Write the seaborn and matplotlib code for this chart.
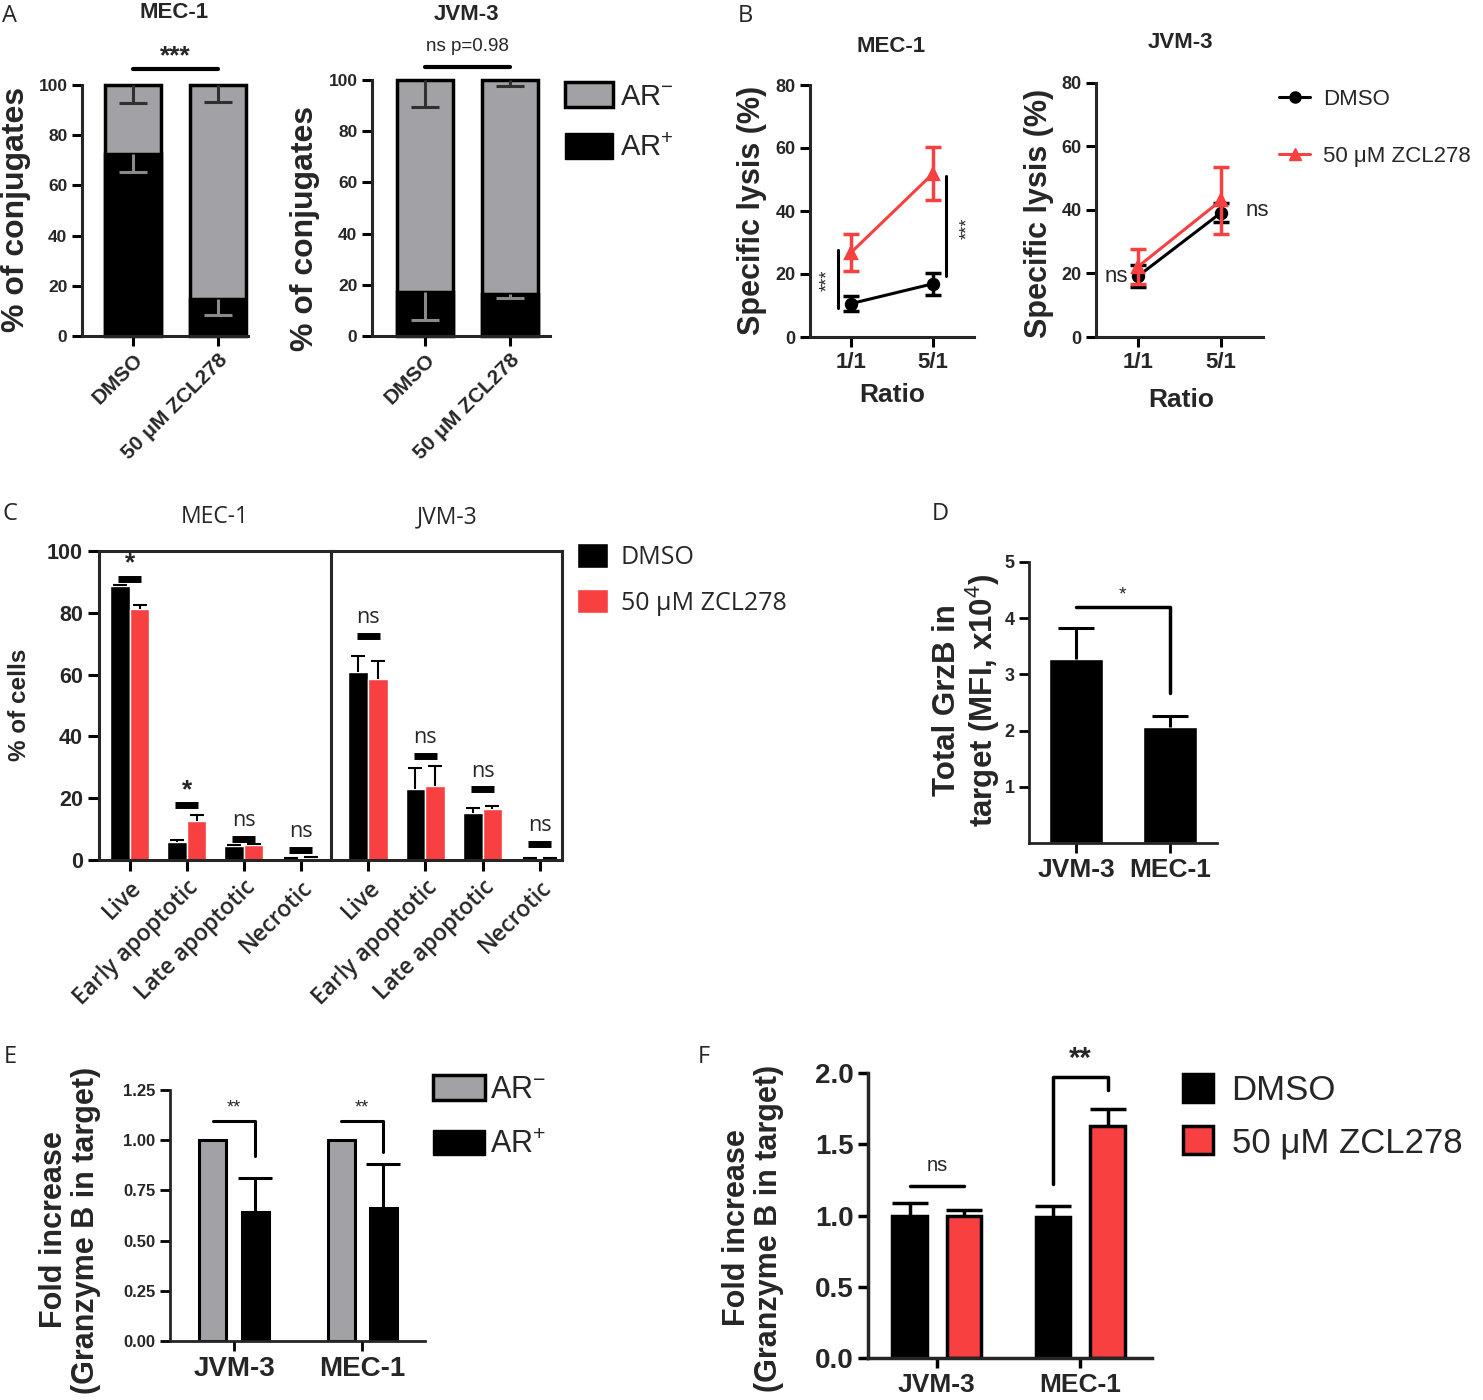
import numpy as np
import pandas as pd
import matplotlib
matplotlib.use("Agg")
import matplotlib.pyplot as plt
from matplotlib.patches import Patch
from matplotlib.lines import Line2D
import seaborn as sns

# ---- data ----
# A: % of conjugates (AR+ part, lower SD of AR+ and of the AR- part)
a_groups = ["DMSO", "50 μM ZCL278"]
a_mec_arpos = [72.7, 14.9]
a_mec_arpos_err = [7.3, 6.7]
a_mec_arneg_err = [7.3, 6.6]
a_jvm_arpos = [17.0, 16.6]
a_jvm_arpos_err = [10.9, 1.7]
a_jvm_arneg_err = [10.6, 2.2]

# B: specific lysis (%)
b_ratios = ["1/1", "5/1"]
b_mec_dmso = [10.6, 16.9]
b_mec_dmso_err = [2.5, 3.5]
b_mec_zcl = [26.8, 51.9]
b_mec_zcl_err = [6.0, 8.4]
b_jvm_dmso = [19.1, 39.2]
b_jvm_dmso_err = [3.5, 3.0]
b_jvm_zcl = [22.1, 43.1]
b_jvm_zcl_err = [5.5, 10.6]

# C: % of cells
c_states = ["Live", "Early apoptotic", "Late apoptotic", "Necrotic"]
c_mec_dmso = [88.6, 5.8, 4.4, 0.3]
c_mec_dmso_err = [0.5, 0.6, 0.3, 0.2]
c_mec_zcl = [81.3, 12.6, 4.8, 0.5]
c_mec_zcl_err = [1.3, 2.0, 0.3, 0.6]
c_jvm_dmso = [60.7, 23.1, 15.2, 0.3]
c_jvm_dmso_err = [5.2, 6.6, 1.5, 0.2]
c_jvm_zcl = [58.7, 23.8, 16.5, 0.4]
c_jvm_zcl_err = [5.7, 6.5, 1.1, 0.2]
c_mec_sig = ["*", "*", "ns", "ns"]
c_mec_sig_y = [91.0, 17.7, 6.9, 3.3]
c_jvm_sig = ["ns", "ns", "ns", "ns"]
c_jvm_sig_y = [72.5, 33.8, 22.9, 5.2]

# D: total GrzB in target
d_lines = ["JVM-3", "MEC-1"]
d_grzb = [3.27, 2.07]
d_grzb_err = [0.56, 0.19]

# E: fold increase, AR- vs AR+
e_lines = ["JVM-3", "MEC-1"]
e_arneg = [1.0, 1.0]
e_arpos = [0.641, 0.661]
e_arpos_err = [0.172, 0.222]

# F: fold increase, DMSO vs ZCL278
f_lines = ["JVM-3", "MEC-1"]
f_dmso = [1.0, 0.99]
f_dmso_err = [0.09, 0.08]
f_zcl = [1.0, 1.63]
f_zcl_err = [0.04, 0.12]

RED = "#f84040"
GRAY = "#a2a2a6"

sns.set_style("ticks")
plt.rcParams["font.family"] = ["Liberation Sans", "DejaVu Sans"]
plt.rcParams["mathtext.fontset"] = "custom"
plt.rcParams["mathtext.rm"] = "Liberation Sans"
plt.rcParams["mathtext.bf"] = "Liberation Sans:bold"
plt.rcParams["mathtext.it"] = "Liberation Sans:italic"

W, H = 1483, 1400
fig = plt.figure(figsize=(W / 100, H / 100), dpi=100)


def px_axes(left, top, right, bottom):
    return fig.add_axes([left / W, 1 - bottom / H, (right - left) / W, (bottom - top) / H])


def ftext(x, y, s, **kw):
    kw.setdefault("ha", "center")
    kw.setdefault("va", "center")
    fig.text(x / W, 1 - y / H, s, **kw)


def style_axes(ax, lw, labelsize, length=7):
    sns.despine(ax=ax)
    for sp in ["left", "bottom"]:
        ax.spines[sp].set_linewidth(lw)
    ax.tick_params(width=lw, length=length, labelsize=labelsize, color="black")
    for lab in ax.get_yticklabels() + ax.get_xticklabels():
        lab.set_fontweight("bold")
    ax.set_xlabel("")
    ax.set_ylabel("")


def up_err(ax, cont, errs, lw=2, cap=8, color="black"):
    for bar, e in zip(cont, errs):
        x = bar.get_x() + bar.get_width() / 2
        eb = ax.errorbar(x, bar.get_height(), yerr=[[0], [e]], fmt="none", ecolor=color,
                         elinewidth=lw, capsize=cap, capthick=lw, zorder=1)
        eb[1][0].set_visible(False)


def down_err(ax, x, y, e, color, lw=2.2, cap=10):
    eb = ax.errorbar(x, y, yerr=[[e], [0]], fmt="none", ecolor=color,
                     elinewidth=lw, capsize=cap, capthick=lw)
    eb[1][1].set_visible(False)


# ---------------- A ----------------
def conj_panel(ax, arpos, arpos_err, arneg_err, xlim):
    df = pd.DataFrame({"group": a_groups, "total": [100, 100], "arpos": arpos})
    sns.barplot(data=df, x="group", y="total", color=GRAY, saturation=1, width=0.66,
                edgecolor="black", linewidth=2.5, errorbar=None, ax=ax, clip_on=False)
    sns.barplot(data=df, x="group", y="arpos", color="black", saturation=1, width=0.66,
                edgecolor="black", linewidth=2.5, errorbar=None, ax=ax)
    tot, pos = ax.containers[0], ax.containers[1]
    for bt, bp, e1, e2 in zip(tot, pos, arneg_err, arpos_err):
        x = bt.get_x() + bt.get_width() / 2
        down_err(ax, x, bt.get_height(), e1, "#303030")
        down_err(ax, x, bp.get_height(), e2, "#8a8a8a")
    ax.set_ylim(0, 100)
    ax.set_yticks(range(0, 101, 20))
    ax.set_xlim(*xlim)
    style_axes(ax, 2.2, 12.5)
    ax.set_xticks(range(len(a_groups)))
    ax.set_xticklabels(a_groups, rotation=45, ha="right", rotation_mode="anchor",
                       fontweight="bold", fontsize=15)


axA1 = px_axes(82, 85, 248, 336)
conj_panel(axA1, a_mec_arpos, a_mec_arpos_err, a_mec_arneg_err, (-0.6, 1.35))
axA2 = px_axes(372, 80, 550, 336)
conj_panel(axA2, a_jvm_arpos, a_jvm_arpos_err, a_jvm_arneg_err, (-0.62, 1.47))

axA1.plot([0, 1], [106.5, 106.5], color="black", lw=3, clip_on=False)
axA1.text(0.5, 111.5, "***", ha="center", va="center", fontsize=19, fontweight="bold")
axA2.plot([0, 1], [105, 105], color="black", lw=3, clip_on=False)
axA2.text(0.5, 113, "ns p=0.98", ha="center", va="center", fontsize=13.5)

ftext(174, 12, "MEC-1", fontsize=16, fontweight="bold")
ftext(466, 14, "JVM-3", fontsize=16, fontweight="bold")
ftext(16, 209, "% of conjugates", rotation=90, fontsize=23, fontweight="bold")
ftext(305, 228, "% of conjugates", rotation=90, fontsize=23, fontweight="bold")
fig.legend([Patch(facecolor=GRAY, edgecolor="black", lw=2.5), Patch(facecolor="black", edgecolor="black")],
           ["AR$^{-}$", "AR$^{+}$"], loc="upper left", bbox_to_anchor=(565 / W, 1 - 82 / H),
           frameon=False, fontsize=21, handlelength=1.65, handleheight=0.95, handletextpad=0.25,
           labelspacing=0.78, borderpad=0, borderaxespad=0)


# ---------------- B ----------------
def lysis_panel(ax, dmso, dmso_err, zcl, zcl_err):
    for vals, errs, col, mk in [(dmso, dmso_err, "black", "o"), (zcl, zcl_err, RED, "^")]:
        sns.pointplot(x=b_ratios, y=vals, color=col, markers=mk, errorbar=None, ax=ax,
                      markersize=8, linewidth=2.2)
        xs = ax.lines[-1].get_xdata()
        ax.errorbar(xs, vals, yerr=errs, fmt="none", ecolor=col, elinewidth=2.5,
                    capsize=6, capthick=2.5)
    ax.set_ylim(0, 80)
    ax.set_yticks(range(0, 81, 20))
    ax.set_xlim(-0.5, 1.5)
    style_axes(ax, 2.2, 13)
    ax.tick_params(axis="x", labelsize=16)
    for lab in ax.get_xticklabels():
        lab.set_fontweight("bold")


axB1 = px_axes(810, 85, 974, 337)
lysis_panel(axB1, b_mec_dmso, b_mec_dmso_err, b_mec_zcl, b_mec_zcl_err)
axB2 = px_axes(1096, 83, 1263, 337)
lysis_panel(axB2, b_jvm_dmso, b_jvm_dmso_err, b_jvm_zcl, b_jvm_zcl_err)

axB1.plot([-0.16, -0.16], [9.3, 27.5], color="black", lw=2.2)
axB1.text(-0.29, 18, "***", rotation=90, ha="center", va="center", fontsize=13)
axB1.plot([1.16, 1.16], [19.3, 51.2], color="black", lw=2.2)
axB1.text(1.42, 34.4, "***", rotation=90, ha="center", va="center", fontsize=13)
axB2.text(-0.26, 19.1, "ns", ha="center", va="center", fontsize=16)
axB2.text(1.43, 39.7, "ns", ha="center", va="center", fontsize=16)

ftext(891, 47, "MEC-1", fontsize=16, fontweight="bold")
ftext(1180, 43, "JVM-3", fontsize=16, fontweight="bold")
ftext(752, 210, "Specific lysis (%)", rotation=90, fontsize=22, fontweight="bold")
ftext(1039, 213, "Specific lysis (%)", rotation=90, fontsize=22, fontweight="bold")
ftext(892, 395, "Ratio", fontsize=19, fontweight="bold")
ftext(1181, 400, "Ratio", fontsize=19, fontweight="bold")
fig.legend([Line2D([], [], color="black", marker="o", lw=2.2, markersize=8),
            Line2D([], [], color=RED, marker="^", lw=2.2, markersize=8)],
           ["DMSO", "50 μM ZCL278"], loc="upper left", bbox_to_anchor=(1279 / W, 1 - 89 / H),
           frameon=False, fontsize=16, handlelength=1.4, handletextpad=0.6,
           labelspacing=1.6, borderpad=0, borderaxespad=0)


# ---------------- C ----------------
def apoptosis_panel(ax, dmso, dmso_err, zcl, zcl_err, sig, sig_y, xlim):
    df = pd.DataFrame({"state": c_states * 2, "pct": dmso + zcl,
                       "treat": ["DMSO"] * 4 + ["ZCL278"] * 4})
    sns.barplot(data=df, x="state", y="pct", hue="treat", palette=["black", RED], saturation=1,
                width=0.69, errorbar=None, legend=False, ax=ax)
    conts = list(ax.containers)
    up_err(ax, conts[0], dmso_err, lw=1.5, cap=5)
    up_err(ax, conts[1], zcl_err, lw=1.5, cap=5)
    for i, (s, y) in enumerate(zip(sig, sig_y)):
        ax.plot([i - 0.2, i + 0.2], [y, y], color="black", lw=5, solid_capstyle="butt")
        if s == "*":
            ax.text(i, y + 1.0, s, ha="center", va="bottom", fontsize=19, fontweight="bold")
        else:
            ax.text(i, y + 2.5, s, ha="center", va="bottom", fontsize=15.5, family="Open Sans")
    ax.set_ylim(0, 100)
    ax.set_xlim(*xlim)
    ax.set_xticks(range(4))
    ax.set_xticklabels(c_states, rotation=45, ha="right", rotation_mode="anchor",
                       fontsize=16.5, family="Open Sans", fontweight=600)
    ax.set_xlabel("")
    ax.set_ylabel("")
    for sp in ax.spines.values():
        sp.set_linewidth(2.2)
    ax.tick_params(width=2.2, length=8, color="black")


axC1 = px_axes(99, 551, 331, 860)
apoptosis_panel(axC1, c_mec_dmso, c_mec_dmso_err, c_mec_zcl, c_mec_zcl_err,
                c_mec_sig, c_mec_sig_y, (-0.54, 3.53))
axC1.spines["right"].set_visible(False)
axC1.set_yticks(range(0, 101, 20))
axC1.tick_params(axis="y", labelsize=15.5)
for lab in axC1.get_yticklabels():
    lab.set_fontweight("bold")
axC2 = px_axes(331, 551, 562, 860)
apoptosis_panel(axC2, c_jvm_dmso, c_jvm_dmso_err, c_jvm_zcl, c_jvm_zcl_err,
                c_jvm_sig, c_jvm_sig_y, (-0.65, 3.39))
axC2.set_yticks([])

ftext(215, 517, "MEC-1", fontsize=16.5, family="Open Sans")
ftext(447, 517, "JVM-3", fontsize=16.5, family="Open Sans")
ftext(20, 705, "% of cells", rotation=90, fontsize=17.5, fontweight="bold")
fig.legend([Patch(facecolor="black"), Patch(facecolor=RED)], ["DMSO", "50 μM ZCL278"],
           loc="upper left", bbox_to_anchor=(577 / W, 1 - 543 / H), frameon=False,
           prop={"family": "Open Sans", "size": 18}, handlelength=1.25, handleheight=1.15,
           handletextpad=0.5, labelspacing=0.75, borderpad=0, borderaxespad=0)


# ---------------- D ----------------
axD = px_axes(1029, 562, 1217, 843)
dfD = pd.DataFrame({"line": d_lines, "grzb": d_grzb})
sns.barplot(data=dfD, x="line", y="grzb", color="black", saturation=1, width=0.57,
            errorbar=None, ax=axD)
up_err(axD, axD.containers[0], d_grzb_err, lw=2.2, cap=13)
axD.set_ylim(0, 5)
axD.set_yticks([1, 2, 3, 4, 5])
axD.set_xlim(-0.5, 1.5)
style_axes(axD, 2, 13)
axD.tick_params(axis="x", labelsize=19)
for lab in axD.get_xticklabels():
    lab.set_fontweight("bold")
axD.plot([0, 1, 1], [4.2, 4.2, 2.67], color="black", lw=2.5)
axD.text(0.49, 4.42, "*", ha="center", va="center", fontsize=14)
ftext(967, 700, "Total GrzB in\ntarget (MFI, x10$^{4}$)", rotation=90, fontsize=22.5,
      fontweight="bold", multialignment="center", linespacing=1.05)


# ---------------- E ----------------
axE = px_axes(170, 1090, 425, 1341)
dfE = pd.DataFrame({"line": e_lines * 2, "fold": e_arneg + e_arpos,
                    "ar": ["AR-"] * 2 + ["AR+"] * 2})
sns.barplot(data=dfE, x="line", y="fold", hue="ar", palette=[GRAY, "black"], saturation=1,
            width=0.66, gap=0.36, edgecolor="black", linewidth=2.2, errorbar=None,
            legend=False, ax=axE)
contE = list(axE.containers)
up_err(axE, contE[1], e_arpos_err, lw=2.2, cap=12)
axE.set_ylim(0, 1.25)
axE.set_yticks([0, 0.25, 0.5, 0.75, 1.0, 1.25])
axE.set_yticklabels([f"{v:.2f}" for v in [0, 0.25, 0.5, 0.75, 1.0, 1.25]])
axE.set_xlim(-0.5, 1.49)
style_axes(axE, 2, 12)
axE.tick_params(axis="x", labelsize=20)
for lab in axE.get_xticklabels():
    lab.set_fontweight("bold")
for bn, bp, leg in zip(contE[0], contE[1], [0.921, 0.943]):
    xn = bn.get_x() + bn.get_width() / 2
    xp = bp.get_x() + bp.get_width() / 2
    axE.plot([xn, xp, xp], [1.097, 1.097, leg], color="black", lw=2.2)
    axE.text((xn + xp) / 2, 1.16, "**", ha="center", va="center", fontsize=13)
ftext(70, 1230, "Fold increase\n(Granzyme B in target)", rotation=90, fontsize=22,
      fontweight="bold", multialignment="center", linespacing=1.05)
fig.legend([Patch(facecolor=GRAY, edgecolor="black", lw=2.5), Patch(facecolor="black", edgecolor="black")],
           ["AR$^{-}$", "AR$^{+}$"], loc="upper left", bbox_to_anchor=(433 / W, 1 - 1075 / H),
           frameon=False, fontsize=22, handlelength=1.7, handleheight=0.9, handletextpad=0.15,
           labelspacing=0.8, borderpad=0, borderaxespad=0)


# ---------------- F ----------------
axF = px_axes(868, 1073, 1152, 1358)
dfF = pd.DataFrame({"line": f_lines * 2, "fold": f_dmso + f_zcl,
                    "treat": ["DMSO"] * 2 + ["ZCL278"] * 2})
sns.barplot(data=dfF, x="line", y="fold", hue="treat", palette=["black", RED], saturation=1,
            width=0.76, gap=0.37, edgecolor="black", linewidth=2.5, errorbar=None,
            legend=False, ax=axF)
contF = list(axF.containers)
up_err(axF, contF[0], f_dmso_err, lw=2.5, cap=13)
up_err(axF, contF[1], f_zcl_err, lw=2.5, cap=13)
axF.set_ylim(0, 2.0)
axF.set_yticks([0, 0.5, 1.0, 1.5, 2.0])
axF.set_yticklabels([f"{v:.1f}" for v in [0, 0.5, 1.0, 1.5, 2.0]])
axF.set_xlim(-0.48, 1.5)
style_axes(axF, 2.5, 20)
axF.tick_params(axis="x", labelsize=19)
for lab in axF.get_xticklabels():
    lab.set_fontweight("bold")
bd = [b.get_x() + b.get_width() / 2 for b in contF[0]]
bz = [b.get_x() + b.get_width() / 2 for b in contF[1]]
axF.plot([bd[0], bz[0]], [1.21, 1.21], color="black", lw=2.5)
axF.text((bd[0] + bz[0]) / 2, 1.35, "ns", ha="center", va="center", fontsize=14.5)
axF.plot([bd[1], bd[1], bz[1], bz[1]], [1.22, 1.97, 1.97, 1.88], color="black", lw=2.5, clip_on=False)
axF.text((bd[1] + bz[1]) / 2, 2.1, "**", ha="center", va="center", fontsize=21, fontweight="bold")
ftext(753, 1228, "Fold increase\n(Granzyme B in target)", rotation=90, fontsize=22,
      fontweight="bold", multialignment="center", linespacing=1.05)
fig.legend([Patch(facecolor="black", edgecolor="black", lw=2.5), Patch(facecolor=RED, edgecolor="black", lw=2.5)],
           ["DMSO", "50 μM ZCL278"], loc="upper left", bbox_to_anchor=(1183 / W, 1 - 1074 / H),
           frameon=False, fontsize=25, handlelength=0.85, handleheight=0.85, handletextpad=0.55,
           labelspacing=0.55, borderpad=0, borderaxespad=0)

# panel letters
for lt, x, y in [("A", 10, 16), ("B", 745, 16), ("C", 10, 514), ("D", 940, 514),
                 ("E", 10, 1057), ("F", 704, 1057)]:
    ftext(x, y, lt, fontsize=17, family="Open Sans")

fig.savefig("out.png", dpi=100)
